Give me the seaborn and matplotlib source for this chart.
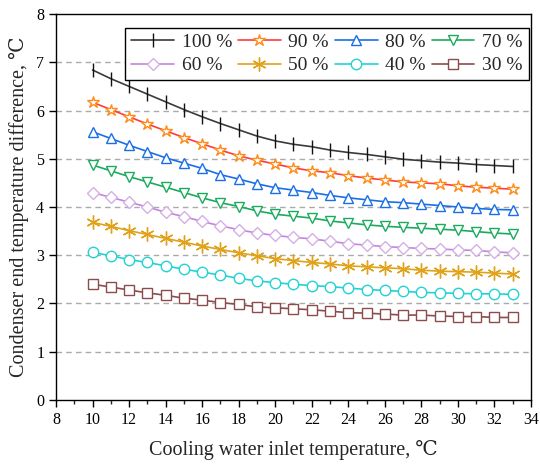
import numpy as np
import pandas as pd
import matplotlib
matplotlib.use("Agg")
import matplotlib.pyplot as plt
from matplotlib.ticker import MultipleLocator
import seaborn as sns

# Cooling water inlet temperature (°C)
inlet_temp = list(range(10, 34))

# Condenser end temperature difference (°C) at each load
load_100 = [6.84, 6.66, 6.50, 6.34, 6.18, 6.02, 5.87, 5.73, 5.60, 5.47, 5.37, 5.30,
            5.25, 5.18, 5.13, 5.09, 5.04, 4.99, 4.96, 4.93, 4.91, 4.88, 4.86, 4.84]
load_90 = [6.17, 6.02, 5.87, 5.72, 5.58, 5.44, 5.31, 5.18, 5.06, 4.97, 4.89, 4.81,
           4.75, 4.71, 4.65, 4.60, 4.56, 4.52, 4.50, 4.48, 4.44, 4.41, 4.39, 4.37]
load_80 = [5.56, 5.42, 5.28, 5.15, 5.02, 4.91, 4.80, 4.67, 4.58, 4.48, 4.40, 4.35,
           4.30, 4.24, 4.19, 4.15, 4.11, 4.09, 4.06, 4.03, 4.00, 3.97, 3.95, 3.94]
load_70 = [4.87, 4.75, 4.63, 4.52, 4.41, 4.30, 4.19, 4.09, 4.01, 3.92, 3.85, 3.81,
           3.77, 3.71, 3.67, 3.63, 3.60, 3.58, 3.56, 3.54, 3.52, 3.49, 3.46, 3.44]
load_60 = [4.30, 4.20, 4.10, 4.00, 3.89, 3.80, 3.70, 3.61, 3.53, 3.46, 3.41, 3.37,
           3.34, 3.29, 3.24, 3.21, 3.18, 3.16, 3.14, 3.13, 3.11, 3.10, 3.07, 3.05]
load_50 = [3.68, 3.60, 3.51, 3.43, 3.35, 3.27, 3.19, 3.12, 3.05, 2.99, 2.93, 2.89,
           2.85, 2.82, 2.78, 2.76, 2.74, 2.72, 2.69, 2.67, 2.66, 2.65, 2.63, 2.61]
load_40 = [3.06, 2.99, 2.91, 2.85, 2.78, 2.71, 2.65, 2.59, 2.52, 2.47, 2.43, 2.40,
           2.37, 2.35, 2.32, 2.29, 2.27, 2.25, 2.23, 2.22, 2.21, 2.20, 2.20, 2.19]
load_30 = [2.40, 2.34, 2.28, 2.22, 2.17, 2.11, 2.07, 2.02, 1.98, 1.93, 1.91, 1.89,
           1.87, 1.84, 1.81, 1.80, 1.78, 1.76, 1.76, 1.74, 1.73, 1.73, 1.71, 1.71]

load_labels = ["100 %", "90 %", "80 %", "70 %", "60 %", "50 %", "40 %", "30 %"]
series = [load_100, load_90, load_80, load_70, load_60, load_50, load_40, load_30]

# (line colour, marker, marker edge colour, marker size)
styles = [
    ("#3a3a3a", "|", "#111111", 10),
    ("#ff3b3b", "*", "#ff8c1a", 9),
    ("#1a6fe6", "^", "#1a6fe6", 7.5),
    ("#1aab5e", "v", "#1aab5e", 7.5),
    ("#c285e0", "D", "#d6aee6", 6),
    ("#e0a21a", (6, 2, 0), "#e0a21a", 10),
    ("#22d3d3", "o", "#22d3d3", 7.5),
    ("#8c4c4c", "s", "#8c4c4c", 7),
]

df = pd.DataFrame({"temp": np.tile(inlet_temp, len(series)),
                   "diff": np.concatenate(series),
                   "load": np.repeat(load_labels, len(inlet_temp))})

sns.set_style("ticks")
plt.rcParams["font.family"] = ["Liberation Serif", "DejaVu Serif"]

fig = plt.figure(figsize=(5.4, 4.67), dpi=100)
ax = fig.add_axes([0.1037, 0.1435, 0.9833 - 0.1037, 0.970 - 0.1435])

for label, (lc, mk, mec, ms) in zip(load_labels, styles):
    sub = df[df["load"] == label]
    sns.lineplot(data=sub, x="temp", y="diff", ax=ax, color=lc, lw=1.2,
                 marker=mk, markersize=ms, markerfacecolor="white",
                 markeredgecolor=mec, markeredgewidth=1.0, label=label)

ax.set_xlim(8, 34)
ax.set_ylim(0, 8)
ax.xaxis.set_major_locator(MultipleLocator(2))
ax.xaxis.set_minor_locator(MultipleLocator(1))
ax.yaxis.set_major_locator(MultipleLocator(1))
ax.tick_params(axis="both", which="major", direction="out", length=5, width=1,
               labelsize=11.5, color="black", labelcolor="black")
ax.tick_params(axis="both", which="minor", direction="out", length=3, width=1)
ax.tick_params(top=False, right=False)
for sp in ax.spines.values():
    sp.set_visible(True)
    sp.set_color("black")
    sp.set_linewidth(1.0)

for yv in range(1, 8):
    ax.axhline(yv, color="#aaaaaa", lw=1.0, ls=(0, (4, 3)), zorder=0)

ax.set_xlabel("Cooling water inlet temperature, ℃", fontsize=14.5, labelpad=9)
ax.set_ylabel("Condenser end temperature difference, ℃", fontsize=14.5, labelpad=5)

# Legend in two rows: 100-70 % on top, 60-30 % below
handles, labels = ax.get_legend_handles_labels()
order = [0, 4, 1, 5, 2, 6, 3, 7]
leg = ax.legend([handles[i] for i in order], [labels[i] for i in order],
                loc="upper right", bbox_to_anchor=(0.995, 0.965), ncol=4,
                fontsize=14, frameon=True, fancybox=False, framealpha=1,
                edgecolor="black", handlelength=2.2, handletextpad=0.4,
                columnspacing=0.3, borderpad=0.3, labelspacing=0.3,
                borderaxespad=0)
leg.get_frame().set_linewidth(1.0)

fig.savefig("out.png", dpi=100)
